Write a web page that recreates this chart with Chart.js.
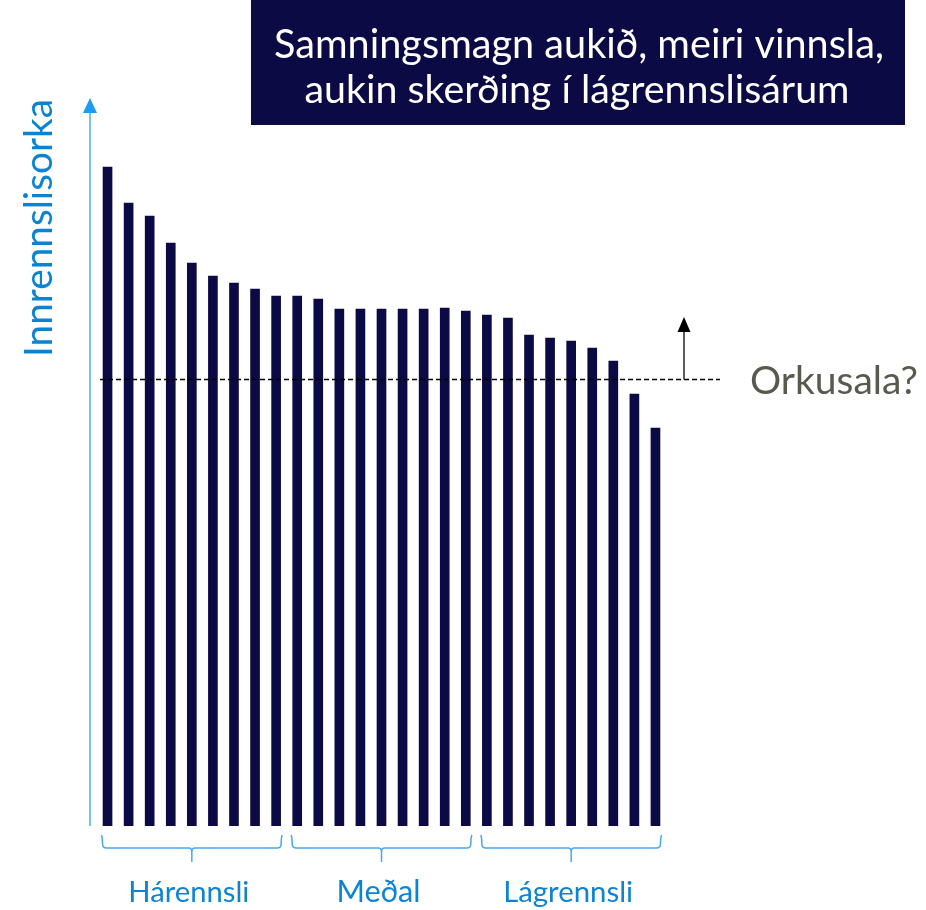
<!DOCTYPE html>
<html>
<head>
<meta charset="utf-8">
<script src="https://cdn.jsdelivr.net/npm/chart.js@4"></script>
<style>
  body { margin: 0; background: white; }
  #wrap { width: 926px; height: 910px; }
</style>
</head>
<body>
<div id="wrap"><canvas id="chart" width="926" height="910"></canvas></div>
<script>
// bar index labels (one per river / year slot)
var labels = ['1','2','3','4','5','6','7','8','9','10','11','12','13','14','15','16','17','18','19','20','21','22','23','24','25','26','27'];
// inflow energy (arbitrary units)
var inflow = [659, 623, 610, 583, 563, 550, 543, 537, 530, 530, 527, 517, 517, 517, 517, 517, 518, 515, 511, 508, 491, 488, 485, 478, 465, 432, 398];
var orkusala = 447;
var groupNames = ['Hárennsli', 'Meðal', 'Lágrennsli'];
var groupFirst = [0, 9, 18];
var groupLast = [8, 17, 26];
var titleLines = ['Samningsmagn aukið, meiri vinnsla,', 'aukin skerðing í lágrennslisárum'];
var yTitle = 'Innrennslisorka';
var lineLabel = 'Orkusala?';

const FONT = 'Lato, "Open Sans", sans-serif';

// font size that makes text exactly the given width
function fit_font(ctx, text, width) {
  ctx.font = '100px ' + FONT;
  var w = ctx.measureText(text).width;
  return 100 * width / w;
}

function draw_text(ctx, text, x, y, width, color, align) {
  var size = fit_font(ctx, text, width);
  ctx.font = size + 'px ' + FONT;
  ctx.fillStyle = color;
  ctx.textAlign = align || 'center';
  ctx.textBaseline = 'alphabetic';
  ctx.fillText(text, x, y);
}

function draw_brace(ctx, x0, x1, yTop, yMid, yTip) {
  var mid = (x0 + x1) / 2;
  var r = 4;
  ctx.beginPath();
  ctx.moveTo(x0 - 1, yTop);
  ctx.quadraticCurveTo(x0, yTop + 3, x0, yMid - r);
  ctx.quadraticCurveTo(x0, yMid, x0 + r, yMid);
  ctx.lineTo(mid - 3, yMid);
  ctx.quadraticCurveTo(mid, yMid, mid, yMid + 4);
  ctx.lineTo(mid, yTip);
  ctx.moveTo(mid, yMid + 4);
  ctx.quadraticCurveTo(mid, yMid, mid + 3, yMid);
  ctx.lineTo(x1 - r, yMid);
  ctx.quadraticCurveTo(x1, yMid, x1, yMid - r);
  ctx.quadraticCurveTo(x1, yTop + 3, x1 + 1, yTop);
  ctx.stroke();
}

const extras = {
  id: 'extras',
  afterDatasetsDraw(chart) {
    var ctx = chart.ctx;
    var xs = chart.scales.x;
    var ys = chart.scales.y;
    var area = chart.chartArea;
    ctx.save();

    // title box
    ctx.fillStyle = '#0c0a45';
    ctx.fillRect(251, 0, 654, 125);
    draw_text(ctx, titleLines[0], 579, 58, 610, '#ffffff');
    draw_text(ctx, titleLines[1], 577, 103, 545, '#ffffff');

    // y axis with arrow
    var ax = area.left - 7;
    ctx.strokeStyle = '#72c4f8';
    ctx.lineWidth = 2;
    ctx.beginPath();
    ctx.moveTo(ax, area.bottom);
    ctx.lineTo(ax, 110);
    ctx.stroke();
    ctx.fillStyle = '#1b9cf0';
    ctx.beginPath();
    ctx.moveTo(ax, 98);
    ctx.lineTo(ax - 7, 113);
    ctx.lineTo(ax + 7, 113);
    ctx.closePath();
    ctx.fill();

    // y title, rotated
    ctx.save();
    ctx.translate(52, 228);
    ctx.rotate(-Math.PI / 2);
    draw_text(ctx, yTitle, 0, 0, 258, '#0a84d2');
    ctx.restore();

    // dashed sales line
    var ly = Math.round(ys.getPixelForValue(orkusala)) + 0.5;
    ctx.strokeStyle = '#000000';
    ctx.lineWidth = 1.3;
    ctx.setLineDash([5, 3]);
    ctx.beginPath();
    ctx.moveTo(100, ly);
    ctx.lineTo(720, ly);
    ctx.stroke();
    ctx.setLineDash([]);

    // upward arrow
    ctx.strokeStyle = '#333333';
    ctx.lineWidth = 1.6;
    ctx.beginPath();
    ctx.moveTo(684, ly);
    ctx.lineTo(684, 330);
    ctx.stroke();
    ctx.fillStyle = '#000000';
    ctx.beginPath();
    ctx.moveTo(684, 317);
    ctx.lineTo(677.5, 332);
    ctx.lineTo(690.5, 332);
    ctx.closePath();
    ctx.fill();

    draw_text(ctx, lineLabel, 750, ly + 14, 168, '#595950', 'left');

    // group braces and names
    ctx.strokeStyle = '#4aa8ec';
    ctx.lineWidth = 1.5;
    for (var g = 0; g < groupNames.length; g++) {
      var x0 = xs.getPixelForValue(groupFirst[g]) - 5;
      var x1 = xs.getPixelForValue(groupLast[g]) + 5;
      draw_brace(ctx, x0, x1, 835, 848, 862);
      var nameWidth = [121, 84, 130][g];
      draw_text(ctx, groupNames[g], (x0 + x1) / 2 - 3, 902, nameWidth, '#0d83d3');
    }
    ctx.restore();
  }
};

function initialize_chart() {
  const data = {
    labels: labels,
    datasets: [{
      label: yTitle,
      data: inflow,
      backgroundColor: '#0c0a44',
      borderWidth: 0,
      barThickness: 9
    }]
  };
  const config = {
    type: 'bar',
    data,
    options: {
      responsive: false,
      animation: false,
      layout: { padding: { left: 97, right: 260, top: 96, bottom: 84 } },
      plugins: { legend: { display: false }, tooltip: { enabled: false } },
      scales: {
        x: { display: false, offset: true },
        y: { display: false, min: 0, max: 730 }
      }
    },
    plugins: [extras]
  };
  return new Chart(document.getElementById('chart'), config);
}

initialize_chart();
</script>
</body>
</html>
